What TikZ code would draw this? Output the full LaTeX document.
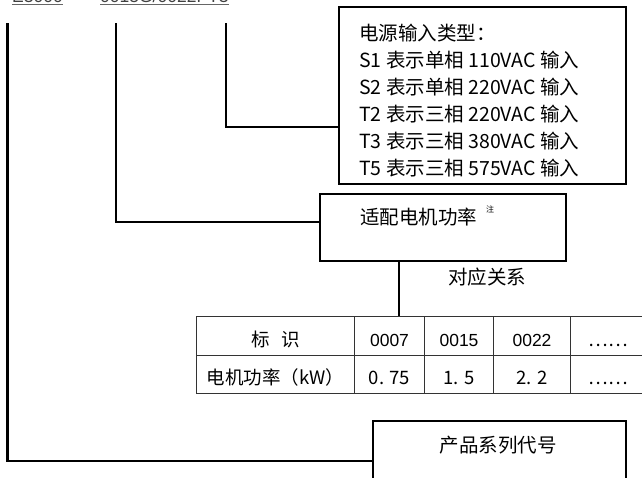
\documentclass[tikz,border=0pt]{standalone}
\usepackage{fontspec}
\newfontfamily\cjk{Noto Sans CJK SC}
\newfontfamily\arial{Liberation Sans}
\begin{document}
\begin{tikzpicture}[x=1pt,y=-1pt,
  conn/.style={line width=2.2pt},
  box/.style={draw,line width=1.5pt,rectangle,inner sep=0pt,anchor=north west},
  txt/.style={font=\cjk\fontsize{19.5}{23}\selectfont,inner sep=0pt},
  cell/.style={draw=black!80,line width=1pt,rectangle,inner sep=0pt,anchor=north west,
    minimum height=38.5pt,text height=24pt,text depth=3pt,font=\cjk\fontsize{18.5}{22}\selectfont},
  num/.style={cell,font=\arial\fontsize{17.5}{20}\selectfont},
  toptxt/.style={font=\arial\fontsize{17.5}{20}\selectfont,text=black!75,inner sep=0pt,anchor=base west},
  ul/.style={draw=black!60,line width=1.2pt}]
\clip (0,0) rectangle (642,477);
% top code
\node[toptxt] (ta) at (12,2.5) {E3000};
\node[toptxt] (tb) at (100,2.5) {0015G/0022PT3};
\draw[ul] ([yshift=-2pt]ta.base west) -- ([yshift=-2pt]ta.base east);
\draw[ul] ([yshift=-2pt]tb.base west) -- ([yshift=-2pt]tb.base east);
\coordinate (c1) at (7.5,23);
\coordinate (c2) at (116,23);
\coordinate (c3) at (226,23);
% power input box
\node[box,minimum width=287pt,minimum height=177pt] (pw) at (338,6) {};
\foreach \t [count=\i] in {电源输入类型：,S1 表示单相 110VAC 输入,S2 表示单相 220VAC 输入,T2 表示三相 220VAC 输入,T3 表示三相 380VAC 输入,T5 表示三相 575VAC 输入}
  \node[txt,anchor=base west] (pl\i) at (359,{13+27*\i}) {\t};
% motor power box
\node[box,minimum width=246pt,minimum height=67pt] (mt) at (319,193) {};
\node[txt,anchor=base west] (mtt) at (360,224.5) {适配电机功率};
\node[font=\cjk\fontsize{8}{8}\selectfont,inner sep=0pt] (note) at (490,209) {注};
\node[txt] (dy) at (487,277) {对应关系};
% table
\node[cell,minimum width=158pt] (a1) at (196,316) {标\hspace*{0.6em}识};
\node[num,minimum width=70pt] (a2) at (354,316) {0007};
\node[num,minimum width=69pt] (a3) at (424,316) {0015};
\node[num,minimum width=77pt] (a4) at (493,316) {0022};
\node[cell,minimum width=76pt] (a5) at (570,316) {……};
\node[cell,minimum width=158pt] (b1) at (196,354.5) {电机功率（kW）};
\node[cell,minimum width=70pt] (b2) at (354,354.5) {0. 75};
\node[cell,minimum width=69pt] (b3) at (424,354.5) {1. 5};
\node[cell,minimum width=77pt] (b4) at (493,354.5) {2. 2};
\node[cell,minimum width=76pt] (b5) at (570,354.5) {……};
% product series box
\node[box,minimum width=253pt,minimum height=80pt] (pb) at (372,420) {};
\node[txt] (pbt) at (498,445) {产品系列代号};
% connectors
\coordinate (k2) at (0,222);
\coordinate (k3) at (0,127);
\coordinate (k4) at (399,0);
\draw[conn] (c1) |- (pb.west);
\draw[conn] (c2) |- (mt.west |- k2);
\draw[conn] (c3) |- (pw.west |- k3);
\draw[conn] (mt.south -| k4) -- (a2.north -| k4);
\end{tikzpicture}
\end{document}
